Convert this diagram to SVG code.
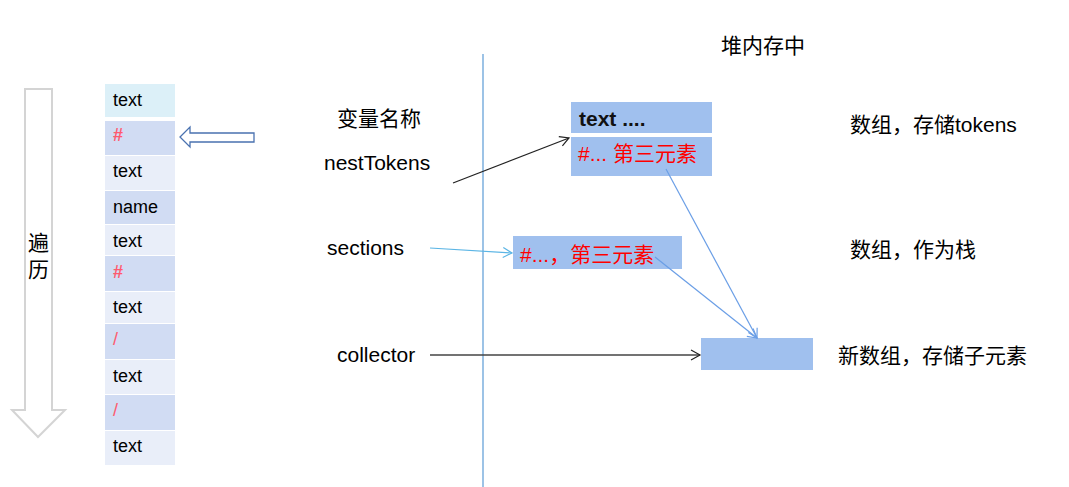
<svg xmlns="http://www.w3.org/2000/svg" width="1069" height="487" viewBox="0 0 1069 487">
<style>
text{font-family:"Liberation Sans","Noto Sans CJK SC",sans-serif;fill:#000}
.row{font-size:18px}
.red{fill:#ff5a6e}
.b{font-weight:bold}
.lbl{font-size:21px}
.hb{fill:#a0c0ee}
.rt{fill:#ff0000;font-size:21px}
</style>
<defs>
<marker id="ab" markerWidth="12" markerHeight="12" refX="10" refY="6" orient="auto" markerUnits="userSpaceOnUse"><path d="M1,1 L10,6 L1,11" fill="none" stroke="#222" stroke-width="1.2"/></marker>
<marker id="al" markerWidth="12" markerHeight="12" refX="10" refY="6" orient="auto" markerUnits="userSpaceOnUse"><path d="M1,1 L10,6 L1,11" fill="none" stroke="#5bb5e5" stroke-width="1.2"/></marker>
<marker id="abl" markerWidth="12" markerHeight="12" refX="10" refY="6" orient="auto" markerUnits="userSpaceOnUse"><path d="M1,1 L10,6 L1,11" fill="none" stroke="#6a9ee6" stroke-width="1.2"/></marker>
</defs>
<rect width="1069" height="487" fill="#fff"/>
<g id="traverse">
<path d="M25,89 L52,89 L52,410 L65,410 L38,437 L12,410 L25,410 Z" fill="#fff" stroke="#d4d4d4" stroke-width="2"/>
<text x="28" y="250" style="font-size:21px">遍</text>
<text x="28" y="277" style="font-size:21px">历</text>
</g>
<g id="token-list">
<rect x="105" y="84" width="70" height="33" fill="#dcf0f8"/>
<rect x="105" y="121" width="70" height="34" fill="#d1dcf3"/>
<rect x="105" y="156" width="70" height="34" fill="#e9eef9"/>
<rect x="105" y="191" width="70" height="33" fill="#d1dcf3"/>
<rect x="105" y="225" width="70" height="30" fill="#e9eef9"/>
<rect x="105" y="256" width="70" height="35" fill="#d1dcf3"/>
<rect x="105" y="292" width="70" height="31" fill="#e9eef9"/>
<rect x="105" y="324" width="70" height="35" fill="#d1dcf3"/>
<rect x="105" y="360" width="70" height="34" fill="#e9eef9"/>
<rect x="105" y="395" width="70" height="35" fill="#d1dcf3"/>
<rect x="105" y="431" width="70" height="34" fill="#e9eef9"/>
<text class="row" x="113" y="106">text</text>
<text class="row red b" x="113" y="141">#</text>
<text class="row" x="113" y="177">text</text>
<text class="row" x="113" y="213">name</text>
<text class="row" x="113" y="247">text</text>
<text class="row red b" x="113" y="278">#</text>
<text class="row" x="113" y="313">text</text>
<text class="row red" x="113" y="345">/</text>
<text class="row" x="113" y="382">text</text>
<text class="row red" x="113" y="416">/</text>
<text class="row" x="113" y="452">text</text>
</g>
<g id="pointer">
<path d="M254,133 L190,133 L190,127 L180,137 L190,147 L190,142 L254,142 Z" fill="#fff" stroke="#4a72b0" stroke-width="1.3"/>
</g>
<g id="divider">
<line x1="483" y1="54" x2="483" y2="487" stroke="#5b9bd5" stroke-width="1.2"/>
</g>
<g id="labels">
<text class="lbl" x="337" y="126">变量名称</text>
<text class="lbl" x="324" y="170">nestTokens</text>
<text class="lbl" x="327" y="255">sections</text>
<text class="lbl" x="337" y="362">collector</text>
<text class="lbl" x="721" y="53">堆内存中</text>
<text class="lbl" x="850" y="132">数组，存储tokens</text>
<text class="lbl" x="850" y="257">数组，作为栈</text>
<text class="lbl" x="838" y="363">新数组，存储子元素</text>
</g>
<g id="tokens-array">
<rect class="hb" x="571" y="102" width="141" height="31"/>
<rect class="hb" x="571" y="137" width="141" height="39"/>
<text x="579" y="126" style="font-size:21px;font-weight:bold;fill:#111">text ....</text>
<text class="rt" x="578" y="161">#... 第三元素</text>
</g>
<g id="sections-array">
<rect class="hb" x="513" y="236" width="169" height="33"/>
<text class="rt" x="520" y="262">#...，第三元素</text>
</g>
<g id="collector-array">
<rect class="hb" x="701" y="338" width="112" height="32"/>
</g>
<g id="connectors" fill="none">
<line x1="453" y1="183" x2="569" y2="138" stroke="#222" stroke-width="1.2" marker-end="url(#ab)"/>
<line x1="430" y1="248" x2="512" y2="253" stroke="#5bb5e5" stroke-width="1.2" marker-end="url(#al)"/>
<line x1="666" y1="169" x2="757" y2="338" stroke="#6a9ee6" stroke-width="1.2" marker-end="url(#abl)"/>
<line x1="655" y1="257" x2="757" y2="338" stroke="#6a9ee6" stroke-width="1.2" marker-end="url(#abl)"/>
<line x1="430" y1="355" x2="700" y2="355" stroke="#444" stroke-width="1.4" marker-end="url(#ab)"/>
</g>
</svg>
